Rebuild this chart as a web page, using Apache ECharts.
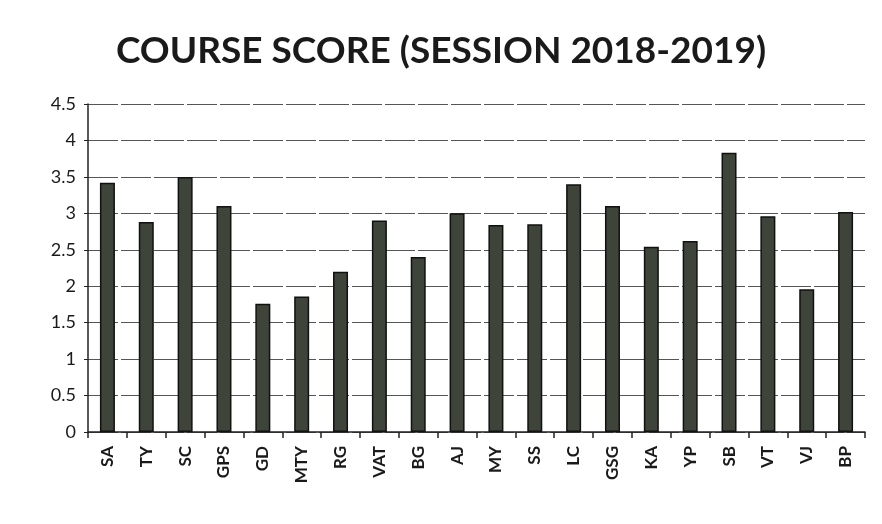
<!DOCTYPE html>
<html><head><meta charset="utf-8">
<script src="https://cdn.jsdelivr.net/npm/echarts@6/dist/echarts.min.js"></script>
<style>html,body{margin:0;padding:0;background:#fff}#c{width:882px;height:524px}</style>
</head><body><div id="c"></div>
<script>
const categories = ["SA","TY","SC","GPS","GD","MTY","RG","VAT","BG","AJ","MY","SS","LC","GSG","KA","YP","SB","VT","VJ","BP"];
const scores = [3.42,2.88,3.5,3.1,1.76,1.86,2.2,2.9,2.4,3.0,2.84,2.85,3.4,3.1,2.54,2.62,3.83,2.96,1.96,3.02];
const yTicks = {min:0, max:4.5, interval:0.5};
const chart = echarts.init(document.getElementById('c'));
chart.setOption({
  animation:false,
  backgroundColor:'#fff',
  title:{text:'COURSE SCORE (SESSION 2018-2019)', left:'center', top:28,
    textStyle:{fontFamily:'Lato', fontWeight:'bold', fontSize:37, color:'#1a1a1a'}},
  grid:{left:88, right:17, top:104, bottom:92},
  xAxis:{type:'category', data:categories,
    axisLine:{lineStyle:{color:'#222', width:1.5}},
    axisTick:{show:true, alignWithLabel:false, length:6, lineStyle:{color:'#222', width:1.5}},
    axisLabel:{rotate:90, fontFamily:'Lato', fontSize:17, color:'#1a1a1a', margin:14, fontWeight:'bold'}},
  yAxis:{type:'value', min:yTicks.min, max:yTicks.max, interval:yTicks.interval,
    axisLine:{show:true, lineStyle:{color:'#222', width:1.5}},
    axisTick:{show:true, length:4, lineStyle:{color:'#222'}},
    splitLine:{lineStyle:{color:'#555', width:1.2, type:[30,3]}},
    axisLabel:{fontFamily:'Lato', fontSize:18, color:'#1a1a1a', margin:12,
      formatter:v=>String(v)}},
  series:[{type:'bar', data:scores, barWidth:15,
    itemStyle:{color:'#3e4439', borderColor:'#111', borderWidth:1.5}}]
});
</script></body></html>
